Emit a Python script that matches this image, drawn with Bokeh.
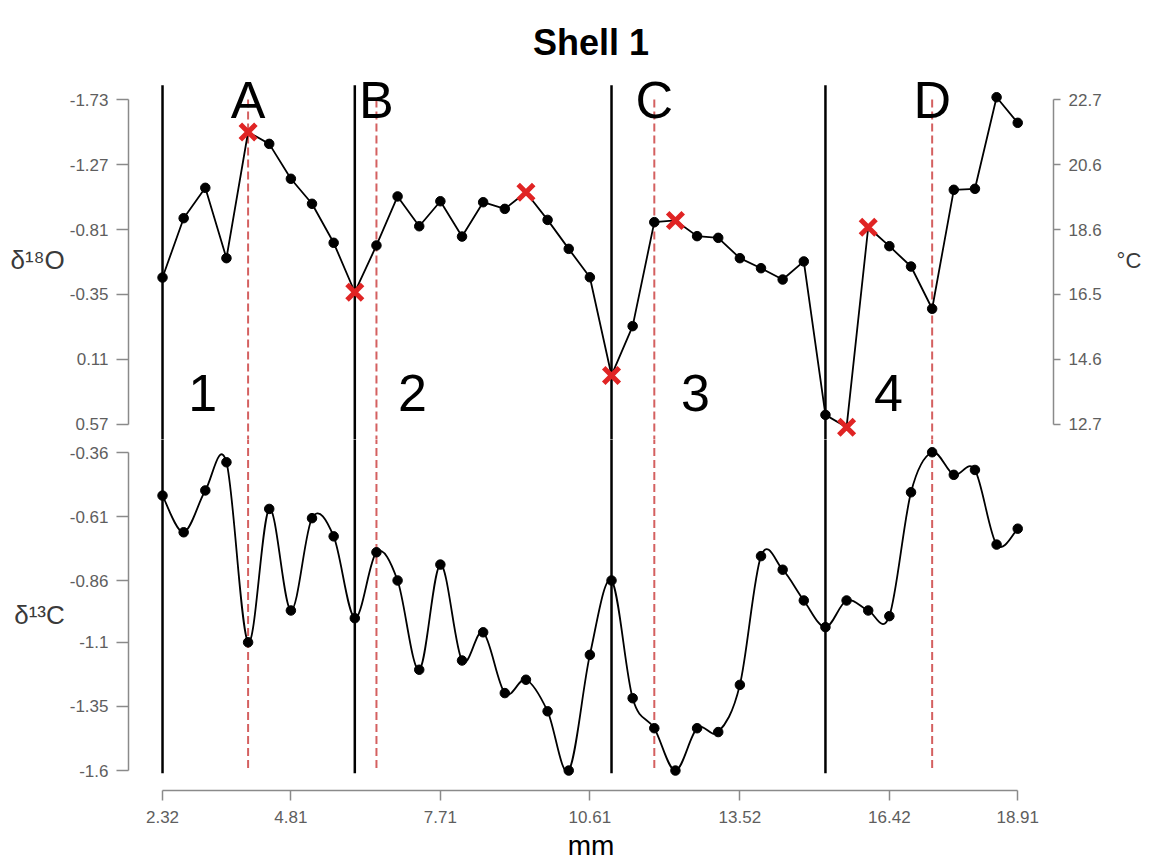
import numpy as np
from bokeh.plotting import figure
from bokeh.models import Range1d, FixedTicker, LinearAxis, PrintfTickFormatter
from bokeh.layouts import column
from bokeh.embed import file_html
from bokeh.resources import INLINE
from bokeh.core.properties import value

# ---------------- data ----------------
title_text = "Shell 1"
x_label = "mm"
d18o_label = "δ¹⁸O"
d13c_label = "δ¹³C"
temp_label = "°C"

depth_mm = [2.32, 2.73, 3.15, 3.56, 3.98, 4.39, 4.81, 5.22, 5.64, 6.05,
            6.47, 6.88, 7.30, 7.71, 8.13, 8.54, 8.96, 9.37, 9.79, 10.20,
            10.61, 11.03, 11.44, 11.86, 12.27, 12.69, 13.10, 13.52, 13.93, 14.35,
            14.76, 15.18, 15.59, 16.01, 16.42, 16.84, 17.25, 17.67, 18.08, 18.50,
            18.91]

d18o = [-0.47, -0.89, -1.105, -0.607, -1.50, -1.416, -1.169, -0.992, -0.716, -0.366,
        -0.697, -1.044, -0.833, -1.01, -0.76, -1.003, -0.956, -1.074, -0.878, -0.673,
        -0.472, 0.223, -0.126, -0.862, -0.874, -0.763, -0.751, -0.607, -0.536, -0.456,
        -0.584, 0.502, 0.589, -0.826, -0.692, -0.548, -0.249, -1.091, -1.098, -1.746,
        -1.565]

d13c = [-0.528, -0.671, -0.508, -0.398, -1.10, -0.58, -0.976, -0.616, -0.687, -1.006,
        -0.749, -0.859, -1.207, -0.797, -1.171, -1.061, -1.298, -1.246, -1.369, -1.60,
        -1.149, -0.859, -1.318, -1.435, -1.60, -1.435, -1.45, -1.266, -0.764, -0.817,
        -0.937, -1.041, -0.937, -0.976, -0.998, -0.515, -0.359, -0.447, -0.428, -0.719,
        -0.657]

marked_idx = [4, 9, 17, 21, 24, 32, 33]

boundary_mm = [2.32, 6.05, 11.03, 15.18]
event_mm = [3.98, 6.47, 11.86, 17.25]
event_labels = ["A", "B", "C", "D"]
region_mm = [3.10, 7.17, 12.66, 16.40]
region_labels = ["1", "2", "3", "4"]

x_ticks = [2.32, 4.81, 7.71, 10.61, 13.52, 16.42, 18.91]
d18o_ticks = [-1.73, -1.27, -0.81, -0.35, 0.11, 0.57]
temp_tick_labels = ["22.7", "20.6", "18.6", "16.5", "14.6", "12.7"]
d13c_ticks = [-0.36, -0.61, -0.86, -1.1, -1.35, -1.6]

# ---------------- layout constants ----------------
FONT = "Liberation Sans"
W = 1152
FL, FR = 128, 99
TOP_H, BOT_H = 439, 425
TOP_BORDER, BOT_BORDER = 80, 74

x_rng = Range1d(1.660, 19.604)
top_rng = Range1d(0.6762, -1.8645)
bot_rng = Range1d(-1.6778, -0.3093)

AX_GRAY = "#8a8a8a"
LBL_GRAY = "#5e5e5e"
RED = "#e02424"
DASH_RED = "#d46060"


def style_axis(ax, tick_out=12):
    ax.axis_line_color = AX_GRAY
    ax.axis_line_width = 1.5
    ax.major_tick_line_color = AX_GRAY
    ax.major_tick_line_width = 1.5
    ax.major_tick_out = tick_out
    ax.major_tick_in = 0
    ax.minor_tick_line_color = None
    ax.major_label_text_font = FONT
    ax.major_label_text_font_size = "17px"
    ax.major_label_text_color = LBL_GRAY
    ax.axis_label_text_font = FONT
    ax.axis_label_text_font_style = "normal"
    ax.axis_label_text_font_size = "26px"
    ax.axis_label_text_color = "#3a3a3a"


def base_fig(height, y_rng, border_top, border_bottom, title=None):
    p = figure(width=W, height=height, x_range=x_rng, y_range=y_rng,
               output_backend="svg", toolbar_location=None,
               min_border_left=FL, min_border_right=FR,
               min_border_top=border_top, min_border_bottom=border_bottom,
               x_axis_location=None, y_axis_location=None, title=title)
    p.outline_line_color = None
    p.background_fill_color = "white"
    p.border_fill_color = "white"
    try:
        p.grid.visible = False
    except Exception:
        pass
    return p


# ---------------- top panel (d18O) ----------------
p1 = base_fig(TOP_H, top_rng, TOP_BORDER, 0, title=title_text)
p1.title.align = "center"
p1.title.text_font = FONT
p1.title.text_font_style = "bold"
p1.title.text_font_size = "36px"
p1.title.text_color = "black"
p1.title.standoff = 36

lax = LinearAxis(ticker=FixedTicker(ticks=d18o_ticks), bounds=(-1.73, 0.57),
                 formatter=PrintfTickFormatter(format="%g"),
                 axis_label=d18o_label, axis_label_orientation="horizontal")
style_axis(lax)
lax.major_label_standoff = 8
lax.axis_label_standoff = 2
p1.add_layout(lax, "left")

rax = LinearAxis(ticker=FixedTicker(ticks=d18o_ticks), bounds=(-1.73, 0.57),
                 major_label_overrides=dict(zip(d18o_ticks, temp_tick_labels)),
                 axis_label=temp_label, axis_label_orientation="horizontal")
style_axis(rax, tick_out=7)
rax.major_label_standoff = 8
rax.axis_label_standoff = 12
rax.axis_label_text_font_size = "22px"
p1.add_layout(rax, "right")

n_b = len(boundary_mm)
n_e = len(event_mm)
p1.segment(x0=boundary_mm, y0=[-1.83] * n_b, x1=boundary_mm, y1=[2.0] * n_b,
           line_color="black", line_width=2.5)
p1.segment(x0=event_mm, y0=[-1.73] * n_e, x1=event_mm, y1=[2.0] * n_e,
           line_color=DASH_RED, line_width=2, line_dash="8 4")

p1.line(depth_mm, d18o, line_color="black", line_width=1.8)

plain_idx = [i for i in range(len(depth_mm)) if i not in marked_idx]
p1.scatter([depth_mm[i] for i in plain_idx], [d18o[i] for i in plain_idx],
           size=9.5, fill_color="black", line_color="black")
p1.scatter([depth_mm[i] for i in marked_idx], [d18o[i] for i in marked_idx],
           marker="x", size=22, line_color=RED, line_width=5)

p1.text(x=event_mm, y=[-1.73] * n_e, text=event_labels,
        text_align="center", text_baseline="middle",
        text_font=value(FONT), text_font_size="52px", text_color="black")
p1.text(x=region_mm, y=[0.344] * len(region_mm), text=region_labels,
        text_align="center", text_baseline="middle",
        text_font=value(FONT), text_font_size="52px", text_color="black")

# ---------------- bottom panel (d13C) ----------------
p2 = base_fig(BOT_H, bot_rng, 0, BOT_BORDER)

lax2 = LinearAxis(ticker=FixedTicker(ticks=d13c_ticks), bounds=(-1.6, -0.36),
                  formatter=PrintfTickFormatter(format="%g"),
                  axis_label=d13c_label, axis_label_orientation="horizontal")
style_axis(lax2)
lax2.major_label_standoff = 8
lax2.axis_label_standoff = 2
p2.add_layout(lax2, "left")

xax = LinearAxis(ticker=FixedTicker(ticks=x_ticks), bounds=(2.32, 18.91),
                 formatter=PrintfTickFormatter(format="%g"), axis_label=x_label)
style_axis(xax, tick_out=10)
xax.major_label_standoff = 10
xax.axis_label_standoff = 4
xax.axis_label_text_color = "black"
xax.axis_label_text_font_size = "28px"
p2.add_layout(xax, "below")

p2.segment(x0=boundary_mm, y0=[0.5] * n_b, x1=boundary_mm, y1=[-1.611] * n_b,
           line_color="black", line_width=2.5)
p2.segment(x0=event_mm, y0=[0.5] * n_e, x1=event_mm, y1=[-1.6] * n_e,
           line_color=DASH_RED, line_width=2, line_dash="8 4")

# smooth (Catmull-Rom) curve through the d13C samples, drawn as Bezier pieces
xs = np.array(depth_mm, dtype=float)
ys = np.array(d13c, dtype=float)
xp = np.concatenate([[xs[0]], xs, [xs[-1]]])
yp = np.concatenate([[ys[0]], ys, [ys[-1]]])
n = len(xs)
x0 = xs[:-1]; y0 = ys[:-1]; x1 = xs[1:]; y1 = ys[1:]
cx0 = x0 + (xp[2:n + 1] - xp[0:n - 1]) / 6.0
cy0 = y0 + (yp[2:n + 1] - yp[0:n - 1]) / 6.0
cx1 = x1 - (xp[3:n + 2] - xp[1:n]) / 6.0
cy1 = y1 - (yp[3:n + 2] - yp[1:n]) / 6.0
p2.bezier(x0=x0, y0=y0, x1=x1, y1=y1, cx0=cx0, cy0=cy0, cx1=cx1, cy1=cy1,
          line_color="black", line_width=1.8)
p2.scatter(depth_mm, d13c, size=9.5, fill_color="black", line_color="black")

layout = column(p1, p2, spacing=0)

with open("out.html", "w") as f:
    f.write(file_html(layout, INLINE, title="Shell 1"))
